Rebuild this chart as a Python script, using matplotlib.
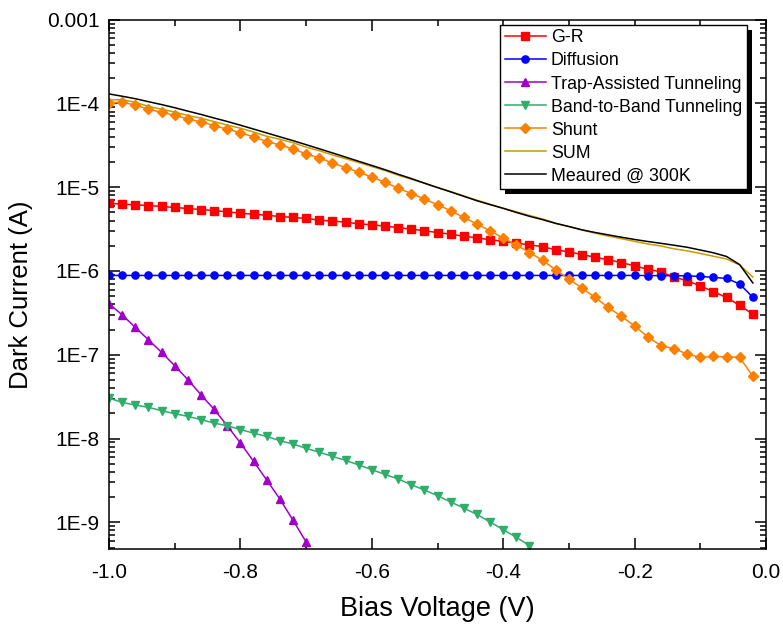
import numpy as np
import matplotlib
matplotlib.use("Agg")
import matplotlib.pyplot as plt
from matplotlib.patches import Rectangle
from matplotlib.ticker import FixedLocator, MultipleLocator, LogLocator, NullFormatter, FixedFormatter

plt.rcParams['font.family'] = ['Liberation Sans', 'DejaVu Sans']
plt.rcParams['axes.unicode_minus'] = False

# Bias voltage grids (V)
bias_full = [round(-1.0 + 0.02 * k, 2) for k in range(50)]          # -1.00 ... -0.02
bias_tat = bias_full[:16]                                            # -1.00 ... -0.70
bias_btb = bias_full[:33]                                            # -1.00 ... -0.36

# Dark current components (A)
gr_current = [6.44e-6, 6.28e-6, 6.17e-6, 6.05e-6, 5.89e-6, 5.73e-6, 5.57e-6, 5.42e-6, 5.27e-6, 5.08e-6,
              4.90e-6, 4.76e-6, 4.63e-6, 4.47e-6, 4.36e-6, 4.24e-6, 4.05e-6, 3.94e-6, 3.83e-6, 3.66e-6,
              3.56e-6, 3.43e-6, 3.30e-6, 3.16e-6, 3.02e-6, 2.88e-6, 2.75e-6, 2.60e-6, 2.48e-6, 2.37e-6,
              2.25e-6, 2.15e-6, 2.05e-6, 1.95e-6, 1.79e-6, 1.69e-6, 1.57e-6, 1.46e-6, 1.36e-6, 1.26e-6,
              1.15e-6, 1.05e-6, 9.77e-7, 8.45e-7, 7.64e-7, 6.65e-7, 5.65e-7, 4.83e-7, 3.88e-7, 3.05e-7]

diffusion_current = [8.85e-7, 8.85e-7, 8.85e-7, 8.85e-7, 8.85e-7, 8.85e-7, 8.85e-7, 8.85e-7, 8.85e-7, 8.85e-7,
                     8.85e-7, 8.85e-7, 8.85e-7, 8.85e-7, 8.85e-7, 8.85e-7, 8.85e-7, 8.85e-7, 8.85e-7, 8.85e-7,
                     8.85e-7, 8.85e-7, 8.85e-7, 8.85e-7, 8.85e-7, 8.85e-7, 8.85e-7, 8.85e-7, 8.85e-7, 8.85e-7,
                     8.85e-7, 8.85e-7, 8.85e-7, 8.85e-7, 8.85e-7, 8.85e-7, 8.85e-7, 8.85e-7, 8.85e-7, 8.85e-7,
                     8.85e-7, 8.83e-7, 8.80e-7, 8.78e-7, 8.75e-7, 8.60e-7, 8.40e-7, 8.15e-7, 7.00e-7, 4.85e-7]

tat_current = [4.06e-7, 3.00e-7, 2.12e-7, 1.51e-7, 1.07e-7, 7.40e-8, 5.04e-8, 3.33e-8,
               2.23e-8, 1.42e-8, 8.85e-9, 5.35e-9, 3.20e-9, 1.90e-9, 1.06e-9, 5.83e-10]

btb_current = [3.04e-8, 2.70e-8, 2.51e-8, 2.36e-8, 2.15e-8, 1.98e-8, 1.84e-8, 1.68e-8, 1.53e-8, 1.42e-8,
               1.28e-8, 1.16e-8, 1.06e-8, 9.42e-9, 8.61e-9, 7.64e-9, 6.87e-9, 6.12e-9, 5.50e-9, 4.83e-9,
               4.25e-9, 3.73e-9, 3.29e-9, 2.81e-9, 2.43e-9, 2.08e-9, 1.75e-9, 1.48e-9, 1.24e-9, 1.01e-9,
               8.18e-10, 6.62e-10, 5.27e-10]

shunt_current = [1.023e-4, 1.035e-4, 9.59e-5, 8.53e-5, 7.85e-5, 7.23e-5, 6.53e-5, 6.03e-5, 5.45e-5, 4.92e-5,
                 4.49e-5, 3.99e-5, 3.51e-5, 3.20e-5, 2.87e-5, 2.50e-5, 2.24e-5, 1.95e-5, 1.72e-5, 1.52e-5,
                 1.32e-5, 1.15e-5, 9.73e-6, 8.41e-6, 7.24e-6, 6.17e-6, 5.25e-6, 4.37e-6, 3.63e-6, 3.02e-6,
                 2.47e-6, 2.05e-6, 1.66e-6, 1.34e-6, 1.03e-6, 8.00e-7, 6.25e-7, 4.83e-7, 3.67e-7, 2.87e-7,
                 2.22e-7, 1.63e-7, 1.29e-7, 1.18e-7, 1.02e-7, 9.29e-8, 9.55e-8, 9.46e-8, 9.29e-8, 5.52e-8]

sum_current = [1.101e-4, 1.110e-4, 1.032e-4, 9.24e-5, 8.54e-5, 7.90e-5, 7.18e-5, 6.67e-5, 6.07e-5, 5.52e-5,
               5.07e-5, 4.56e-5, 4.06e-5, 3.74e-5, 3.40e-5, 3.01e-5, 2.73e-5, 2.43e-5, 2.19e-5, 1.975e-5,
               1.765e-5, 1.582e-5, 1.392e-5, 1.246e-5, 1.115e-5, 9.94e-6, 8.89e-6, 7.86e-6, 7.00e-6, 6.28e-6,
               5.61e-6, 5.09e-6, 4.60e-6, 4.18e-6, 3.71e-6, 3.38e-6, 3.08e-6, 2.83e-6, 2.61e-6, 2.43e-6,
               2.26e-6, 2.10e-6, 1.99e-6, 1.84e-6, 1.74e-6, 1.62e-6, 1.50e-6, 1.39e-6, 1.18e-6, 8.45e-7]

measured_current = [1.30e-4, 1.22e-4, 1.14e-4, 1.05e-4, 9.70e-5, 8.90e-5, 8.10e-5, 7.40e-5, 6.70e-5, 6.10e-5,
                    5.50e-5, 4.95e-5, 4.45e-5, 4.00e-5, 3.60e-5, 3.22e-5, 2.88e-5, 2.57e-5, 2.29e-5, 2.04e-5,
                    1.82e-5, 1.62e-5, 1.43e-5, 1.27e-5, 1.12e-5, 9.90e-6, 8.80e-6, 7.80e-6, 6.90e-6, 6.20e-6,
                    5.60e-6, 5.00e-6, 4.50e-6, 4.10e-6, 3.70e-6, 3.40e-6, 3.10e-6, 2.88e-6, 2.70e-6, 2.53e-6,
                    2.38e-6, 2.25e-6, 2.14e-6, 2.03e-6, 1.92e-6, 1.78e-6, 1.65e-6, 1.49e-6, 1.19e-6, 7.20e-7]

y_tick_values = [1e-9, 1e-8, 1e-7, 1e-6, 1e-5, 1e-4, 1e-3]
y_tick_labels = ["1E-9", "1E-8", "1E-7", "1E-6", "1E-5", "1E-4", "0.001"]
x_tick_values = [-1.0, -0.8, -0.6, -0.4, -0.2, 0.0]
x_tick_labels = ["-1.0", "-0.8", "-0.6", "-0.4", "-0.2", "0.0"]

fig = plt.figure(figsize=(7.83, 6.28), dpi=100)
ax = fig.add_axes([109 / 783, 1 - 549 / 628, (766 - 109) / 783, (549 - 19.7) / 628])

lw = 1.1
ax.plot(bias_full, gr_current, color='#FF0000', lw=lw, marker='s', ms=5.8, mec='#FF0000', label='G-R')
ax.plot(bias_full, diffusion_current, color='#0000FF', lw=lw, marker='o', ms=5.2, mec='#0000FF', label='Diffusion')
ax.plot(bias_tat, tat_current, color='#A000C8', lw=lw, marker='^', ms=6.2, mec='#A000C8', label='Trap-Assisted Tunneling')
ax.plot(bias_btb, btb_current, color='#2EAD6B', lw=lw, marker='v', ms=6.2, mec='#2EAD6B', label='Band-to-Band Tunneling')
ax.plot(bias_full, shunt_current, color='#FF8000', lw=lw, marker='D', ms=5.6, mec='#FF8000', label='Shunt')
ax.plot(bias_full, sum_current, color='#CC9900', lw=lw, label='SUM')
ax.plot(bias_full, measured_current, color='black', lw=lw, label='Meaured @ 300K')

ax.set_yscale('log')
ax.set_xlim(-1.0, 0.0)
ax.set_ylim(4.8e-10, 1e-3)

ax.xaxis.set_major_locator(FixedLocator(x_tick_values))
ax.xaxis.set_major_formatter(FixedFormatter(x_tick_labels))
ax.xaxis.set_minor_locator(MultipleLocator(0.1))
ax.yaxis.set_major_locator(FixedLocator(y_tick_values))
ax.yaxis.set_major_formatter(FixedFormatter(y_tick_labels))
ax.yaxis.set_minor_locator(LogLocator(base=10, subs=np.arange(2, 10), numticks=20))
ax.yaxis.set_minor_formatter(NullFormatter())

for s in ax.spines.values():
    s.set_linewidth(1.1)
ax.tick_params(which='both', direction='in', top=True, right=True, width=1.1, labelsize=15)
ax.tick_params(which='major', length=8)
ax.tick_params(which='minor', length=4)
ax.tick_params(axis='y', which='major', pad=7)
ax.tick_params(axis='x', which='major', pad=10)

ax.set_xlabel('Bias Voltage (V)', fontsize=19.5)
ax.set_ylabel('Dark Current (A)', fontsize=18.5)
ax.xaxis.set_label_coords(0.5, -0.088)
ax.yaxis.set_label_coords(-0.116, 0.48)

leg = ax.legend(loc='upper right', bbox_to_anchor=(0.9706, 0.990), borderaxespad=0,
                fontsize=12.8, frameon=True, fancybox=False, framealpha=1,
                edgecolor='black', handlelength=2.3, handletextpad=0.3,
                labelspacing=0.34, borderpad=0.25)
leg.get_frame().set_linewidth(1.0)

# solid drop shadow behind the legend box
fig.canvas.draw()
bb = leg.get_window_extent()
off = 5
inv = ax.transAxes.inverted()
(sx0, sy0) = inv.transform((bb.x0 + off, bb.y0 - off))
(sx1, sy1) = inv.transform((bb.x1 + off, bb.y1 - off))
ax.add_patch(Rectangle((sx0, sy0), sx1 - sx0, sy1 - sy0, transform=ax.transAxes,
                       facecolor='black', edgecolor='none', zorder=4.9, clip_on=False))

fig.savefig('out.png', dpi=100)
